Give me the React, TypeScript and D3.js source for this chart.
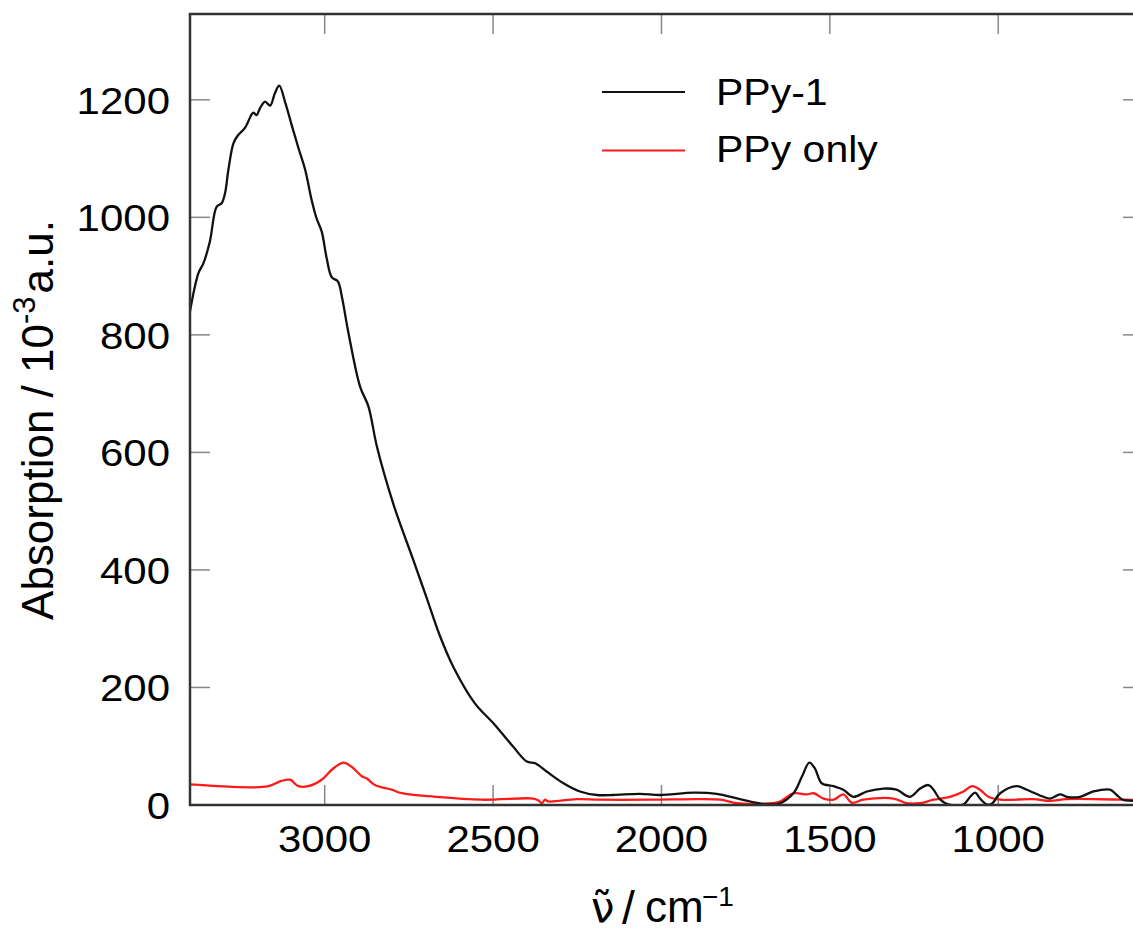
import React from "react";
import * as d3 from "d3";

// PPy-1 (black) — wavenumber (cm^-1) and absorption (10^-3 a.u.)
const ppy1Wn = [3400, 3375, 3360, 3341, 3321, 3306, 3296, 3286, 3271, 3257, 3237, 3212, 3202, 3192, 3177, 3162, 3148, 3135, 3118, 3098, 3078, 3058, 3039, 3024, 3009, 2994, 2979, 2961, 2949, 2930, 2895, 2870, 2845, 2796, 2737, 2697, 2658, 2618, 2554, 2499, 2440, 2400, 2375, 2341, 2291, 2242, 2192, 2143, 2064, 2004, 1905, 1836, 1767, 1687, 1648, 1608, 1583, 1561, 1544, 1524, 1489, 1460, 1430, 1390, 1341, 1302, 1262, 1232, 1207, 1192, 1172, 1148, 1103, 1083, 1068, 1054, 1034, 1019, 994, 945, 915, 866, 846, 816, 796, 757, 717, 668, 648, 630, 600, 570];
const ppy1Val = [840, 905, 922, 959, 1018, 1024, 1041, 1081, 1126, 1140, 1152, 1178, 1174, 1186, 1197, 1190, 1211, 1224, 1197, 1157, 1118, 1081, 1030, 998, 976, 930, 898, 891, 865, 805, 712, 678, 610, 512, 417, 352, 288, 235, 173, 139, 99, 74, 71, 57, 37, 23, 17, 17, 19, 17, 21, 19, 10, 1, 3, 20, 48, 72, 62, 37, 32, 26, 14, 23, 28, 26, 14, 28, 34, 26, 9, 1, 1, 14, 21, 11, 1, 2, 20, 32, 26, 14, 11, 18, 14, 14, 23, 26, 17, 9, 7, 5];

// PPy only (red)
const ppyOnlyWn = [3400, 3316, 3217, 3167, 3128, 3103, 3078, 3049, 3009, 2979, 2945, 2920, 2890, 2875, 2851, 2801, 2771, 2672, 2534, 2380, 2366, 2355, 2346, 2336, 2252, 2182, 2034, 1885, 1826, 1776, 1707, 1648, 1608, 1568, 1548, 1519, 1489, 1460, 1435, 1400, 1311, 1272, 1232, 1192, 1143, 1103, 1078, 1054, 1029, 994, 896, 846, 796, 630, 570];
const ppyOnlyVal = [35, 32, 30, 32, 41, 43, 32, 32, 43, 60, 72, 65, 49, 45, 34, 26, 20, 14, 9, 11, 8, 3, 9, 6, 10, 9, 9, 10, 9, 3, 2, 6, 20, 18, 20, 11, 9, 18, 4, 9, 11, 3, 3, 9, 14, 23, 32, 26, 14, 9, 10, 7, 10, 9, 8];

const xTicks = [3000, 2500, 2000, 1500, 1000];
const yTicks = [0, 200, 400, 600, 800, 1000, 1200];
const seriesNames = ["PPy-1", "PPy only"];
const seriesColors = ["#111111", "#ff1a1a"];

const W = 1133;
const H = 935;
const L = 190, R = 1143, T = 14, B = 805;
const FONT = "'Liberation Sans', Arial, Helvetica, sans-serif";

export default function App() {
  const x = d3.scaleLinear().domain([3400, 570]).range([L, R]);
  const y = d3.scaleLinear().domain([0, 1346]).range([B, T]);
  const line = d3
    .line<[number, number]>()
    .x((d) => x(d[0]))
    .y((d) => y(d[1]))
    .curve(d3.curveCatmullRom.alpha(0.5));

  const s1 = ppy1Wn.map((w, i) => [w, ppy1Val[i]] as [number, number]);
  const s2 = ppyOnlyWn.map((w, i) => [w, ppyOnlyVal[i]] as [number, number]);
  const tickLen = 20;

  return (
    <svg
      width={W}
      height={H}
      style={{ position: "absolute", left: 0, top: 0, background: "#fff" }}
      fontFamily={FONT}
    >
      <defs>
        <clipPath id="plotclip">
          <rect x={L} y={T} width={R - L} height={B - T} />
        </clipPath>
      </defs>
      {/* ticks */}
      {xTicks.map((t) => (
        <g key={"xt" + t} stroke="#888" strokeWidth={1.5}>
          <line x1={x(t)} x2={x(t)} y1={B} y2={B - tickLen} />
          <line x1={x(t)} x2={x(t)} y1={T} y2={T + tickLen} />
        </g>
      ))}
      {yTicks.map((t) => (
        <g key={"yt" + t} stroke="#888" strokeWidth={1.5}>
          <line x1={L} x2={L + tickLen} y1={y(t)} y2={y(t)} />
          <line x1={R} x2={R - tickLen} y1={y(t)} y2={y(t)} />
        </g>
      ))}
      {/* curves */}
      <g clipPath="url(#plotclip)" fill="none" strokeLinejoin="round">
        <path d={line(s2) || ""} stroke={seriesColors[1]} strokeWidth={2.3} />
        <path d={line(s1) || ""} stroke={seriesColors[0]} strokeWidth={2.3} />
      </g>
      {/* frame */}
      <rect x={L} y={T} width={R - L} height={B - T} fill="none" stroke="#333" strokeWidth={2.5} />
      {/* tick labels */}
      {xTicks.map((t) => (
        <text
          key={"xl" + t}
          transform={`translate(${x(t)},852) scale(1,0.9)`}
          textAnchor="middle"
          fontSize={42}
          fill="#000"
        >
          {t}
        </text>
      ))}
      {yTicks.map((t) => (
        <text
          key={"yl" + t}
          transform={`translate(170,${y(t) + 14}) scale(1,0.9)`}
          textAnchor="end"
          fontSize={42}
          fill="#000"
        >
          {t}
        </text>
      ))}
      {/* axis titles */}
      <text transform="translate(53,420) rotate(-90)" textAnchor="middle" fontSize={44} fill="#000">
        Absorption / 10
        <tspan dy={-18} fontSize={31}>-3</tspan>
        <tspan dy={18} dx={3}>a.u.</tspan>
      </text>
      <text fill="#000">
        <tspan x={591} y={922} fontSize={42} fontFamily="'DejaVu Sans', sans-serif">{"\u03BD\u0303"}</tspan>
        <tspan x={622} y={924} fontSize={46}>/</tspan>
        <tspan x={645} y={922} fontSize={44}>cm</tspan>
        <tspan x={702} y={906} fontSize={28}>−1</tspan>
      </text>
      {/* legend */}
      {seriesNames.map((n, i) => (
        <g key={n}>
          <line x1={602} x2={685} y1={92 + i * 58.5} y2={92 + i * 58.5} stroke={seriesColors[i]} strokeWidth={2.2} />
          <text transform={`translate(716,${105 + i * 57}) scale(1,0.9)`} fontSize={41} fill="#000">
            {n}
          </text>
        </g>
      ))}
    </svg>
  );
}
